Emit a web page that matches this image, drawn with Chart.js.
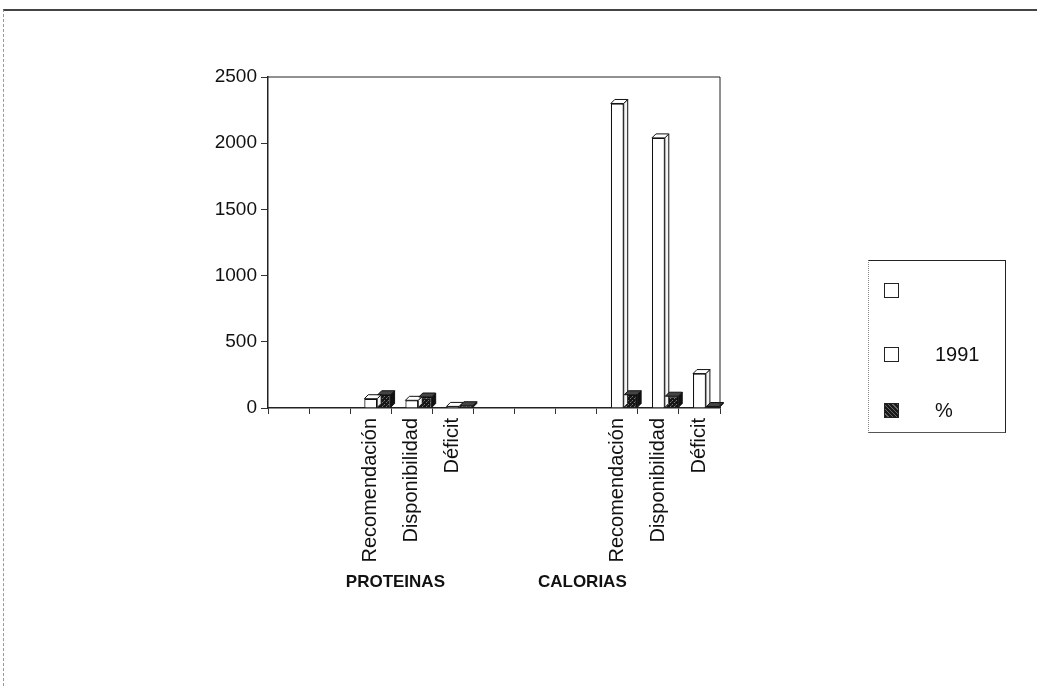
<!DOCTYPE html>
<html>
<head>
<meta charset="utf-8">
<script src="https://cdn.jsdelivr.net/npm/chart.js@4/dist/chart.umd.min.js"></script>
<style>
  body { margin: 0; background: #fff; }
  #wrap { position: relative; width: 1037px; height: 686px; overflow: hidden; }
  #frame { position: absolute; left: 3px; top: 9px; width: 1040px; height: 700px;
           border-top: 2px solid #444; border-left: 1px dashed #999; }
  #legend { position: absolute; left: 868px; top: 260px; width: 136px; height: 171px;
            border-top: 1px solid #222; border-right: 1px solid #222; border-bottom: 1px solid #555;
            border-left: 1px dotted #888; font: 20px "Liberation Sans", Arial, sans-serif; color: #111; }
  .item { position: absolute; left: 15px; height: 22px; display: flex; align-items: center; }
  .sw { width: 15px; height: 15px; border: 1px solid #222; margin-right: 36px; box-sizing: border-box; }
</style>
</head>
<body>
<div id="wrap">
  <div id="frame"></div>
  <canvas id="c" width="1037" height="686"></canvas>
  <div id="legend"></div>
</div>
<script>
const categorias = ['', '', 'Recomendación', 'Disponibilidad', 'Déficit', '', '', '', 'Recomendación', 'Disponibilidad', 'Déficit'];
const serieVacia = [null, null, null, null, null, null, null, null, null, null, null];
const valores1991 = [null, null, 70, 58, 12, null, null, null, 2300, 2040, 260];
const porcentaje = [null, null, 100, 83, 17, null, null, null, 100, 89, 11];
const grupos = ['PROTEINAS', 'CALORIAS'];
const grupoPos = [2.6, 7.15]; // posicion en el eje de categorias
const yTicks = [0, 500, 1000, 1500, 2000, 2500];

// trama oscura para la serie %
function trama() {
  const p = document.createElement('canvas');
  p.width = 4; p.height = 4;
  const g = p.getContext('2d');
  g.fillStyle = '#161616';
  g.fillRect(0, 0, 4, 4);
  g.fillStyle = '#7a7a7a';
  g.fillRect(0, 0, 1, 1);
  g.fillRect(2, 2, 1, 1);
  g.fillStyle = '#444';
  g.fillRect(3, 1, 1, 1);
  return g.createPattern(p, 'repeat');
}
const oscuro = trama();

const fuente = '"Liberation Sans", Arial, sans-serif';

// caras 3D de las barras
const barras3d = {
  id: 'barras3d',
  afterDatasetsDraw(chart) {
    const ctx = chart.ctx;
    const d = 4;
    chart.data.datasets.forEach((ds, i) => {
      const meta = chart.getDatasetMeta(i);
      meta.data.forEach((bar, j) => {
        if (ds.data[j] == null) return;
        const { x, y, base, width } = bar.getProps(['x', 'y', 'base', 'width'], true);
        const l = x - width / 2, r = x + width / 2;
        ctx.save();
        ctx.lineWidth = 1;
        ctx.strokeStyle = '#111';
        ctx.fillStyle = ds.sideColor;
        ctx.beginPath();
        ctx.moveTo(r, y); ctx.lineTo(r + d, y - d); ctx.lineTo(r + d, base - d); ctx.lineTo(r, base);
        ctx.closePath(); ctx.fill(); ctx.stroke();
        ctx.fillStyle = ds.topColor;
        ctx.beginPath();
        ctx.moveTo(l, y); ctx.lineTo(l + d, y - d); ctx.lineTo(r + d, y - d); ctx.lineTo(r, y);
        ctx.closePath(); ctx.fill(); ctx.stroke();
        ctx.restore();
      });
    });
  }
};

// marco del area y etiquetas de grupo
const marco = {
  id: 'marco',
  afterDraw(chart) {
    const ctx = chart.ctx;
    const a = chart.chartArea;
    ctx.save();
    ctx.strokeStyle = '#222';
    ctx.lineWidth = 1;
    ctx.beginPath();
    ctx.moveTo(a.left, a.top); ctx.lineTo(a.right, a.top); ctx.lineTo(a.right, a.bottom);
    ctx.stroke();
    ctx.fillStyle = '#111';
    ctx.font = 'bold 17px ' + fuente;
    ctx.textAlign = 'center';
    ctx.textBaseline = 'middle';
    grupos.forEach((g, i) => {
      ctx.fillText(g, chart.scales.x.getPixelForValue(grupoPos[i]), 582);
    });
    ctx.restore();
  }
};

const chart = new Chart(document.getElementById('c'), {
  type: 'bar',
  data: {
    labels: categorias,
    datasets: [
      { label: '', data: serieVacia, backgroundColor: '#fff', borderColor: '#111', borderWidth: 1, sideColor: '#fff', topColor: '#fff' },
      { label: '1991', data: valores1991, backgroundColor: '#fff', borderColor: '#111', borderWidth: 1.2, sideColor: '#f4f4f4', topColor: '#fff' },
      { label: '%', data: porcentaje, backgroundColor: oscuro, borderColor: '#111', borderWidth: 1.2, sideColor: '#111', topColor: '#444' }
    ]
  },
  options: {
    responsive: false,
    animation: false,
    layout: { padding: { left: 0, top: 77, right: 317, bottom: 0 } },
    datasets: { bar: { categoryPercentage: 0.98, barPercentage: 0.96 } },
    plugins: { legend: { display: false }, tooltip: { enabled: false } },
    scales: {
      x: {
        afterFit(s) { s.height = 686 - 77 - 331; },
        grid: { drawOnChartArea: false, drawTicks: true, tickLength: 6, color: '#333', offset: true },
        border: { color: '#222', width: 1.5 },
        ticks: { autoSkip: false, minRotation: 90, maxRotation: 90, padding: 4, color: '#111', font: { family: fuente, size: 20 } }
      },
      y: {
        min: 0, max: 2500,
        afterFit(s) { s.width = 268; },
        afterBuildTicks(s) { s.ticks = yTicks.map(v => ({ value: v })); },
        grid: { drawOnChartArea: false, drawTicks: true, tickLength: 7, color: '#333' },
        border: { color: '#222', width: 1.5 },
        ticks: { padding: 4, color: '#111', font: { family: fuente, size: 19 }, callback: v => String(v) }
      }
    }
  },
  plugins: [barras3d, marco]
});

// leyenda
const leyenda = document.getElementById('legend');
const tops = [18, 82, 138];
chart.data.datasets.forEach((ds, i) => {
  const it = document.createElement('div');
  it.className = 'item';
  it.style.top = tops[i] + 'px';
  const sw = document.createElement('div');
  sw.className = 'sw';
  if (ds.label === '%') sw.style.background = 'repeating-linear-gradient(45deg,#1a1a1a 0 2px,#666 2px 3px)';
  else sw.style.background = '#fff';
  it.appendChild(sw);
  const t = document.createElement('span');
  t.textContent = ds.label;
  it.appendChild(t);
  leyenda.appendChild(it);
});
</script>
</body>
</html>
